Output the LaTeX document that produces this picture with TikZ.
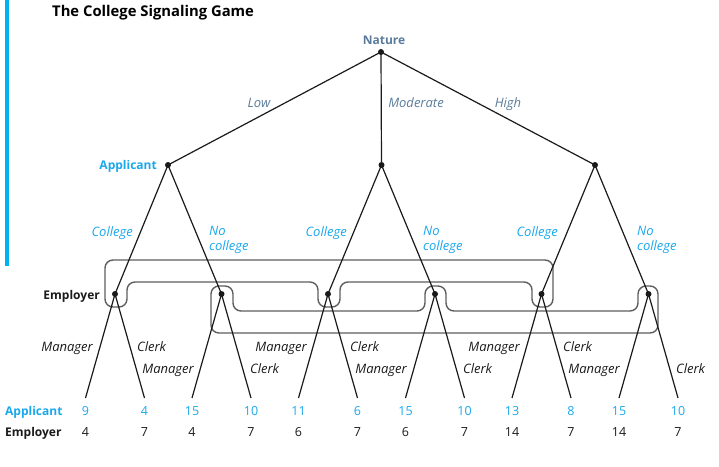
\documentclass[tikz,border=0pt]{standalone}
\usepackage{fontspec}
\setmainfont{Open Sans}
\usetikzlibrary{calc}
\definecolor{cyanA}{HTML}{1AA8EC}
\definecolor{barcol}{HTML}{00B2F0}
\definecolor{slate}{HTML}{5A7B9B}
\definecolor{setgrey}{HTML}{5E5E5E}
\definecolor{ink}{HTML}{1A1A1A}
\begin{document}
\begin{tikzpicture}[x=1pt,y=-1pt,
  every node/.style={inner sep=0pt},
  txt/.style={font=\fontsize{12}{15}\selectfont, text height=9pt, text depth=3pt, yshift=-1.5pt},
  itfont/.style={font=\fontsize{13}{15}\selectfont\itshape},
  dot/.style={circle, fill=ink, inner sep=0pt, minimum size=6pt},
  branch/.style={draw=ink, line width=1.2pt},
  infoset/.style={draw=setgrey, line width=1.4pt, rounded corners=8pt},
  actlab/.style={txt, itfont, text=cyanA},
  choicelab/.style={txt, itfont, text=ink},
  naturelab/.style={txt, itfont, text=slate},
  player/.style={txt, font=\fontsize{12}{15}\selectfont\bfseries},
  payA/.style={txt, text=cyanA, font=\fontsize{12.5}{15}\selectfont},
  payE/.style={txt, text=ink, font=\fontsize{12.5}{15}\selectfont},
  twoline/.style={text=cyanA, itfont, align=left, anchor=north west},
]
\useasboundingbox (0,0) rectangle (719,466);
\fill[barcol] (5,0) rectangle (9,266);
\node[font=\fontsize{14.8}{17}\selectfont\bfseries, anchor=west] (title) at (52,12.5) {The College Signaling Game};

% information sets
\draw[infoset] (105,260) -- (553,260) -- (553,307) -- (532,307) -- (532,282) -- (340,282) -- (340,307) -- (318,307) -- (318,282) -- (127,282) -- (127,307) -- (105,307) -- cycle;
\draw[infoset] (211,333) -- (211,286) -- (233,286) -- (233,311) -- (425,311) -- (425,286) -- (446,286) -- (446,311) -- (638,311) -- (638,286) -- (658,286) -- (658,333) -- cycle;

% decision nodes
\coordinate (n) at (381,52);
\coordinate (a1) at (168,165);
\coordinate (a2) at (381.5,165);
\coordinate (a3) at (595,165);
\coordinate (e1) at (115,294);
\coordinate (e2) at (221.5,294);
\coordinate (e3) at (328,294);
\coordinate (e4) at (435,294);
\coordinate (e5) at (541.5,294);
\coordinate (e6) at (648.5,294);
\foreach \i in {1,...,6}{
  \coordinate (l\i a) at ($(e\i)+(-29.5,104)$);
  \coordinate (l\i b) at ($(e\i)+(29.5,104)$);
}

% branches
\draw[branch] (n) -- (a1);
\draw[branch] (n) -- (a2);
\draw[branch] (n) -- (a3);
\draw[branch] (a1) -- (e1);
\draw[branch] (a1) -- (e2);
\draw[branch] (a2) -- (e3);
\draw[branch] (a2) -- (e4);
\draw[branch] (a3) -- (e5);
\draw[branch] (a3) -- (e6);
\foreach \i in {1,...,6}{
  \draw[branch] (e\i) -- (l\i a);
  \draw[branch] (e\i) -- (l\i b);
}

% dots
\foreach \p in {n,a1,a2,a3,e1,e2,e3,e4,e5,e6}{
  \node[dot] (dot-\p) at (\p) {};
}

% labels
\node[player, text=slate] (natlab) at (384,40) {Nature};
\node[naturelab] (low) at (259,103) {Low};
\node[naturelab] (mod) at (416,103) {Moderate};
\node[naturelab] (high) at (508,103) {High};
\node[player, text=cyanA, anchor=east] (applab) at (157,165) {Applicant};
\node[player, text=ink, anchor=east] (emplab) at (100,295) {Employer};

\node[actlab, anchor=east] (c1) at (133,232) {College};
\node[actlab, anchor=east] (c2) at (347,232) {College};
\node[actlab, anchor=east] (c3) at (558,232) {College};
\node[twoline] (nc1) at (209,226) {No\\college};
\node[twoline] (nc2) at (423,226) {No\\college};
\node[twoline] (nc3) at (637,226) {No\\college};

\node[choicelab, anchor=east] (m1) at (93,347) {Manager};
\node[choicelab, anchor=west] (k1) at (137,347) {Clerk};
\node[choicelab, anchor=east] (m2) at (194,369) {Manager};
\node[choicelab, anchor=west] (k2) at (250,369) {Clerk};
\node[choicelab, anchor=east] (m3) at (307,347) {Manager};
\node[choicelab, anchor=west] (k3) at (350,347) {Clerk};
\node[choicelab, anchor=east] (m4) at (407,369) {Manager};
\node[choicelab, anchor=west] (k4) at (463,369) {Clerk};
\node[choicelab, anchor=east] (m5) at (520,347) {Manager};
\node[choicelab, anchor=west] (k5) at (563,347) {Clerk};
\node[choicelab, anchor=east] (m6) at (620,369) {Manager};
\node[choicelab, anchor=west] (k6) at (676,369) {Clerk};

% payoffs
\node[player, text=cyanA, anchor=west] (rowA) at (5,410.7) {Applicant};
\node[player, text=ink, anchor=west] (rowE) at (5,431.7) {Employer};
\foreach \i/\ua/\ea/\ub/\eb in {1/9/4/4/7, 2/15/4/10/7, 3/11/6/6/7, 4/15/6/10/7, 5/13/14/8/7, 6/15/14/10/7}{
  \node[payA] (pa\i a) at ($(l\i a)+(0,12.7)$) {\ua};
  \node[payE] (pe\i a) at ($(l\i a)+(0,33.7)$) {\ea};
  \node[payA] (pa\i b) at ($(l\i b)+(0,12.7)$) {\ub};
  \node[payE] (pe\i b) at ($(l\i b)+(0,33.7)$) {\eb};
}
\end{tikzpicture}
\end{document}
